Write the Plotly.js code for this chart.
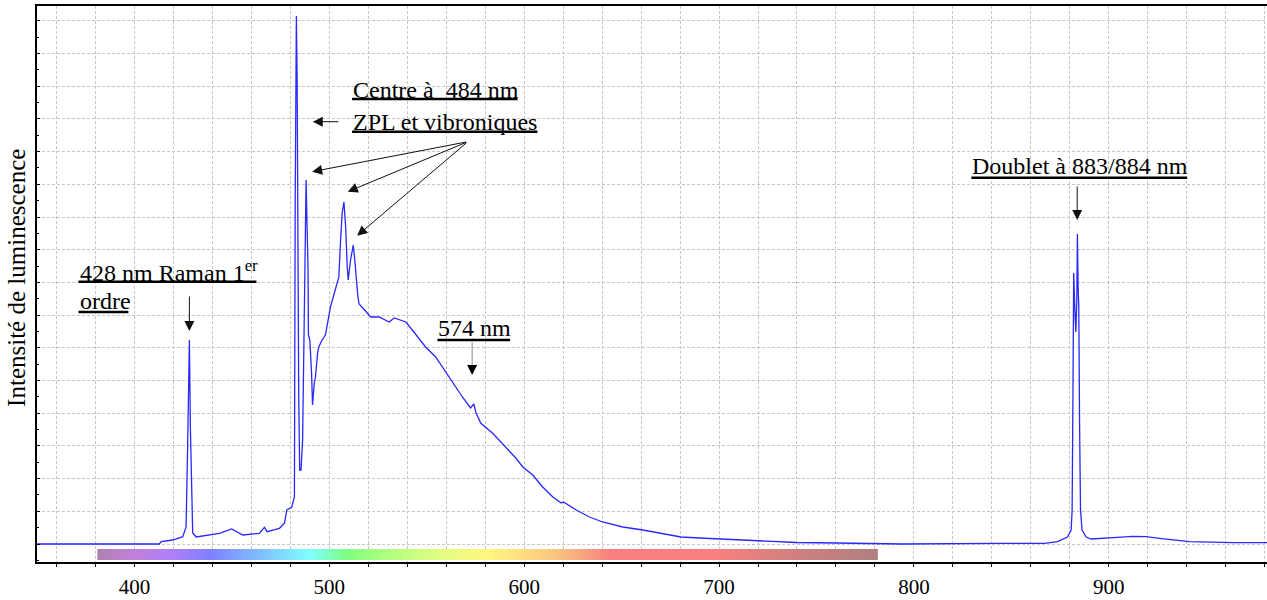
<!DOCTYPE html>
<html>
<head>
<meta charset="utf-8">
<script src="https://cdn.plot.ly/plotly-3.0.1.min.js"></script>
<style>html,body{margin:0;padding:0;background:#fff;}</style>
</head>
<body>
<div id="chart" style="width:1267px;height:600px;"></div>
<script>
// Spectrum (wavelength in nm, intensity in arbitrary units)
const wavelength = [
  350, 412.8, 413.7, 419.7, 424.8, 426.5, 427.3, 427.7, 428.2, 428.7, 429.1, 429.4, 429.9, 431.7,
  438.5, 443.6, 449.9, 455.6, 464.1, 466.7, 468.1, 474.4, 477.0, 478.2, 480.7,
  482.1, 482.5, 482.8, 483.1, 483.5, 483.8, 484.3, 484.8, 485.5, 486.3, 487.2, 487.6, 488.1, 488.6,
  489.1, 489.3, 490.0, 490.9, 491.4, 492.3, 492.9, 494.0, 494.6, 496.3, 498.0, 500.6, 503.2, 504.9,
  505.8, 506.6, 507.5, 508.4, 509.2, 509.7, 510.9, 512.3, 513.2, 513.9, 514.7, 515.3, 518.7, 521.3,
  525.6, 530.7, 533.3, 539.3, 542.6, 549.4, 554.6, 558.0, 563.1, 568.3, 572.5, 574.2, 575.1, 577.7,
  583.7, 590.6, 595.7, 599.3, 604.4, 609.5, 614.7, 619.0, 620.2, 626.7, 633.5, 640.3, 650.6, 660.9,
  671.1, 680.5, 689.9, 700.2, 710.4, 720.7, 739.5, 760.0, 793.9, 843.9, 867.0, 873.7, 878.8, 880.7,
  881.2, 881.6, 882.0, 882.6, 883.1, 883.6, 883.9, 884.3, 884.6, 885.0, 885.5, 886.3, 888.4, 891.0,
  895.2, 904.5, 912.2, 919.2, 926.0, 934.6, 941.4, 963.5, 982
];
const intensity = [
  0, 0, 2.3, 4, 7.3, 17, 97, 151, 204, 117, 71, 27, 11, 7,
  9, 10.7, 15, 9, 10.7, 16.7, 12.3, 15.7, 20.7, 34, 36.7,
  47, 342, 436, 528, 464, 314, 150, 74, 74, 104, 250, 344, 364, 317,
  274, 209, 204, 171, 139, 161, 167, 191, 197, 204, 209, 237, 254, 267,
  304, 331, 342, 317, 277, 264, 284, 299, 281, 261, 247, 240, 232, 227,
  227, 222, 226, 222, 214, 197, 187, 177, 161, 147, 136, 140, 132, 121,
  111, 97, 86, 77, 69, 57, 47, 41, 42, 34, 27, 22, 17, 14,
  10, 7, 6, 5, 4, 3, 1.5, 1, 0, 0.7, 0.7, 2.3, 7, 14,
  34, 144, 271, 234, 212, 244, 310, 254, 239, 124, 34, 14, 7, 5,
  5.7, 6.7, 7.7, 7.3, 5.7, 4, 2.3, 1.3, 1.3
];

// Visible-spectrum strip under the curve
const spectrumStopsNm = [381, 399, 418, 439, 458, 478, 490, 500, 509, 530, 555, 580, 598, 619, 644, 700, 739, 781.5];
const spectrumStopsColor = ['#b080b0', '#c080d8', '#b080f8', '#8080ff', '#80b0ff', '#80e0ff', '#80ffff', '#80ffc0',
  '#80ff80', '#b0ff80', '#e0ff80', '#fff880', '#ffe080', '#f8c080', '#f88080', '#f88080', '#d08080', '#b08080'];

// Axis tick labels
const tickValues = [400, 500, 600, 700, 800, 900];
const tickLabels = ['400', '500', '600', '700', '800', '900'];

// Labels
const labelRaman1 = '428 nm Raman 1<sup>er</sup>';
const labelRaman2 = 'ordre';
const labelCentre = 'Centre à\u00A0 484 nm';
const labelZPL = 'ZPL et vibroniques';
const label574 = '574 nm';
const labelDoublet = 'Doublet à 883/884 nm';
const yTitle = 'Intensité de luminescence';

function spectrumImage() {
  const c = document.createElement('canvas');
  c.width = 800; c.height = 4;
  const ctx = c.getContext('2d');
  const lo = spectrumStopsNm[0], hi = spectrumStopsNm[spectrumStopsNm.length - 1];
  const g = ctx.createLinearGradient(0, 0, c.width, 0);
  spectrumStopsNm.forEach((nm, i) => g.addColorStop((nm - lo) / (hi - lo), spectrumStopsColor[i]));
  ctx.fillStyle = g;
  ctx.fillRect(0, 0, c.width, c.height);
  return c.toDataURL();
}

const serif = 'Liberation Serif, Times New Roman, serif';
const gridCol = '#c6c6c6';

const trace = {
  x: wavelength, y: intensity, type: 'scatter', mode: 'lines',
  line: {color: 'rgb(40,40,255)', width: 1.3}, hoverinfo: 'skip', showlegend: false
};

function txt(text, x, y) {
  return {text: text, x: x, y: y, xref: 'x', yref: 'y', xanchor: 'left', yanchor: 'middle',
    showarrow: false, borderpad: 0, font: {family: serif, size: 24, color: '#000'}};
}
function arrow(x, y, ax, ay, col, head) {
  return {text: '', x: x, y: y, xref: 'x', yref: 'y', ax: ax, ay: ay, showarrow: true,
    arrowhead: head === undefined ? 2 : head, arrowsize: 2, arrowwidth: 1, arrowcolor: col || '#111'};
}
function underline(x0, x1, y) {
  return {type: 'line', xref: 'x', yref: 'y', x0: x0, x1: x1, y0: y, y1: y,
    line: {color: '#000', width: 2.5}};
}

const layout = {
  width: 1267, height: 600,
  margin: {l: 37, r: 0, t: 6, b: 38},
  paper_bgcolor: '#fff', plot_bgcolor: '#fff',
  showlegend: false,
  xaxis: {
    range: [350, 981.2], showline: true, linecolor: '#000', linewidth: 2, mirror: true,
    tickvals: tickValues, ticktext: tickLabels, ticks: 'outside', ticklen: 3, tickcolor: '#000',
    showgrid: true, gridcolor: gridCol, griddash: '3px,2px', gridwidth: 1,
    minor: {dtick: 20, tick0: 0, showgrid: true, gridcolor: gridCol, griddash: '3px,2px', gridwidth: 1,
            ticks: 'outside', ticklen: 3, tickcolor: '#000'},
    tickfont: {family: serif, size: 21, color: '#000'},
    ticklabelstandoff: 2, zeroline: false, fixedrange: true
  },
  xaxis2: {
    overlaying: 'x', matches: 'x', anchor: 'y', side: 'bottom',
    dtick: 2, tick0: 0, ticks: 'outside', ticklen: 2, tickcolor: '#444',
    showticklabels: false, showgrid: false, showline: false, zeroline: false
  },
  yaxis: {
    range: [-18, 538], showline: true, linecolor: '#000', linewidth: 2,
    dtick: 32.7, tick0: 0, ticks: 'inside', ticklen: 3, tickcolor: '#000',
    showticklabels: false,
    showgrid: true, gridcolor: gridCol, griddash: '3px,2px', gridwidth: 1,
    minor: {dtick: 16.35, tick0: 0, ticks: 'inside', ticklen: 2, tickcolor: '#000', showgrid: false},
    zeroline: false, fixedrange: true
  },
  images: [{
    source: spectrumImage(), xref: 'x', yref: 'y',
    x: spectrumStopsNm[0], y: -5,
    sizex: spectrumStopsNm[spectrumStopsNm.length - 1] - spectrumStopsNm[0], sizey: 11,
    xanchor: 'left', yanchor: 'top', sizing: 'stretch', layer: 'above'
  }],
  shapes: [
    underline(371.3, 462.6, 262.3),
    underline(371.3, 396.9, 232),
    underline(511.7, 596.6, 445),
    underline(511.7, 606.8, 412.3),
    underline(555.5, 592.8, 204),
    underline(829.5, 940.2, 366.3)
  ],
  annotations: [
    txt(labelRaman1, 371.3, 273),
    txt(labelRaman2, 371.3, 243),
    txt(labelCentre, 511.7, 454),
    txt(labelZPL, 511.7, 422),
    txt(label574, 555.5, 216),
    txt(labelDoublet, 829.5, 378),
    arrow(428.2, 213, 0, -36),
    arrow(491.5, 422.3, 27, 0),
    arrow(491.2, 372.3, 155.6, -30),
    arrow(509.5, 352.3, 120, -50),
    arrow(514.3, 308.3, 110.6, -94),
    arrow(573.3, 180, 0, -23, '#8a8a8a', 0),
    arrow(573.3, 169, 0, -12, '#000'),
    arrow(883.8, 324, 0, -35),
    {text: yTitle, xref: 'paper', yref: 'paper', x: 0, y: 0.511, xshift: -20,
     xanchor: 'center', yanchor: 'middle', textangle: -90, showarrow: false,
     font: {family: serif, size: 25, color: '#000'}}
  ]
};

Plotly.newPlot('chart', [trace], layout, {displayModeBar: false, staticPlot: true});
</script>
</body>
</html>
